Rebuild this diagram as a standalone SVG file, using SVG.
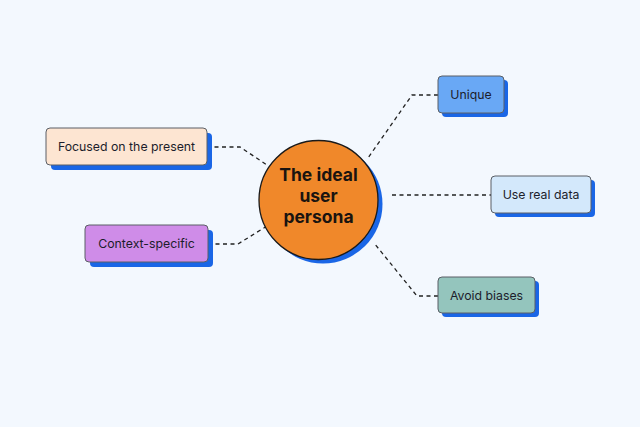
<svg xmlns="http://www.w3.org/2000/svg" width="640" height="427" viewBox="0 0 640 427">
  <style>
    .bg { fill: #f3f8fe; }
    .shadow { fill: #1a66e6; }
    .box { stroke: #5a5f66; stroke-width: 1; }
    .lbl { font-family: Inter, "Noto Sans", "Liberation Sans", sans-serif; font-size: 12.3px; fill: #1c1d2b; text-anchor: middle; }
    .title { font-family: Inter, "Noto Sans", "Liberation Sans", sans-serif; font-size: 17.5px; font-weight: 700; fill: #1a1410; text-anchor: middle; }
    .conn { fill: none; stroke: #222; stroke-width: 1.3; stroke-dasharray: 4 3.5; }
  </style>
  <rect class="bg" x="0" y="0" width="640" height="427"/>

  <g id="connectors">
    <path class="conn" d="M207,147 L240,147 L267,165"/>
    <path class="conn" d="M208,244 L238,244 L267,226"/>
    <path class="conn" d="M438,95 L412,95 L368,158"/>
    <path class="conn" d="M392,195 L491,195"/>
    <path class="conn" d="M438,296 L417,296 L374,243"/>
  </g>

  <g id="center">
    <circle class="shadow" cx="323" cy="204" r="59.5"/>
    <circle cx="318.5" cy="200" r="59.5" fill="#f0882a" stroke="#1a1a1a" stroke-width="1.3"/>
    <text class="title" x="318.5" y="181">The ideal</text>
    <text class="title" x="318.5" y="202">user</text>
    <text class="title" x="318.5" y="223">persona</text>
  </g>

  <g id="focused">
    <rect class="shadow" x="51" y="133" width="161" height="37" rx="4"/>
    <rect class="box" x="46" y="128" width="161" height="37" rx="4" fill="#fde5d2"/>
    <text class="lbl" x="126.5" y="151">Focused on the present</text>
  </g>

  <g id="context">
    <rect class="shadow" x="90" y="230" width="123" height="37" rx="4"/>
    <rect class="box" x="85" y="225" width="123" height="37" rx="4" fill="#cf8ce8"/>
    <text class="lbl" x="146.5" y="248">Context-specific</text>
  </g>

  <g id="unique">
    <rect class="shadow" x="442" y="80" width="66" height="37" rx="4"/>
    <rect class="box" x="438" y="76" width="66" height="37" rx="4" fill="#69a8f5"/>
    <text class="lbl" x="471" y="99">Unique</text>
  </g>

  <g id="realdata">
    <rect class="shadow" x="495" y="180" width="100" height="37" rx="4"/>
    <rect class="box" x="491" y="176" width="100" height="37" rx="4" fill="#d3e8fb"/>
    <text class="lbl" x="541" y="199">Use real data</text>
  </g>

  <g id="biases">
    <rect class="shadow" x="442" y="281" width="97" height="36" rx="4"/>
    <rect class="box" x="438" y="277" width="97" height="36" rx="4" fill="#94c5bd"/>
    <text class="lbl" x="486.5" y="299.5">Avoid biases</text>
  </g>
</svg>
